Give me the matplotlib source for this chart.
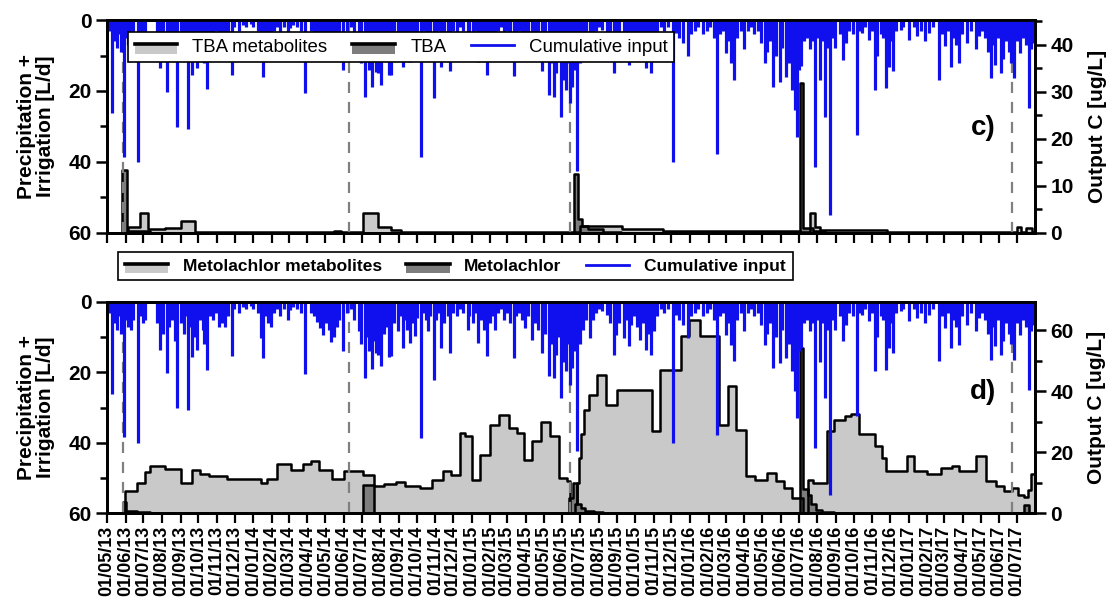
import matplotlib
matplotlib.use('Agg')
import matplotlib.pyplot as plt
import matplotlib.dates as mdates
from matplotlib.patches import Patch, Rectangle
from matplotlib.lines import Line2D
from matplotlib.legend_handler import HandlerBase
from matplotlib.ticker import MultipleLocator
import pandas as pd

plt.rcParams['font.family'] = ['Liberation Sans', 'DejaVu Sans']

START = pd.Timestamp('2013-05-01')
END_DAY = 1552          # right edge of the x axis, days after START
LAST_DAY = 1550         # last day of the concentration records

# daily precipitation + irrigation (L/d), days after START
rain_day = [3, 8, 13, 17, 20, 24, 28, 32, 35, 40, 44, 52, 57, 60, 64,
            84, 89, 94, 100, 104, 109, 113, 117, 123, 128, 131, 135, 139, 142, 146,
            151, 155, 160, 163, 168, 173, 178, 183, 188, 193, 198, 203, 209, 213, 220,
            227, 232, 240, 245, 252, 257, 261, 265, 270, 274, 279, 284, 289, 296, 302,
            306, 311, 318, 324, 331, 341, 346, 351, 356, 361, 366, 371, 375, 380, 385,
            388, 395, 401, 408, 413, 422, 425, 431, 435, 438, 443, 447, 450, 454, 459,
            464, 467, 472, 475, 480, 487, 491, 495, 499, 502, 506, 511, 515, 519, 525,
            529, 533, 537, 541, 547, 551, 554, 559, 564, 570, 573, 578, 585, 591, 596,
            603, 606, 612, 617, 621, 625, 630, 635, 640, 644, 649, 654, 659, 664, 669,
            674, 680, 684, 689, 694, 699, 704, 711, 716, 720, 727, 732, 739, 743, 747,
            751, 754, 760, 763, 767, 771, 775, 778, 781, 786, 791, 796, 801, 807, 813,
            818, 823, 828, 837, 842, 848, 852, 857, 865, 869, 873, 877, 882, 887, 892,
            897, 901, 906, 909, 914, 919, 926, 932, 939, 946, 951, 956, 963, 971, 976,
            983, 988, 996, 1003, 1009, 1015, 1020, 1025, 1030, 1035, 1040, 1044, 1049, 1053, 1060,
            1066, 1072, 1077, 1082, 1089, 1094, 1100, 1104, 1109, 1114, 1119, 1125, 1129, 1136, 1141,
            1145, 1150, 1154, 1158, 1161, 1166, 1171, 1175, 1179, 1184, 1188, 1193, 1196, 1201, 1204,
            1209, 1213, 1218, 1225, 1231, 1236, 1241, 1248, 1254, 1258, 1262, 1268, 1275, 1280, 1285,
            1288, 1294, 1297, 1302, 1307, 1312, 1315, 1320, 1327, 1332, 1341, 1349, 1354, 1361, 1368,
            1374, 1381, 1391, 1396, 1401, 1406, 1411, 1416, 1420, 1425, 1430, 1438, 1445, 1453, 1458,
            1463, 1468, 1473, 1478, 1482, 1485, 1490, 1495, 1499, 1504, 1509, 1512, 1517, 1522, 1527,
            1532, 1537, 1542, 1546, 1549]
rain_val = [3, 26.3, 6, 8, 4, 9, 38.5, 5, 7, 8, 5, 40, 4, 6, 5,
            6, 13.6, 9, 20.2, 7, 5, 11, 30.1, 6, 9, 4, 30.8, 7, 15.5, 10,
            13.6, 5, 8, 12, 19.4, 4, 5, 3, 7, 6, 7, 4, 15.4, 2, 3,
            1.5, 2, 1, 2, 3, 10.3, 16, 4, 6, 7, 3, 2, 4, 2, 5,
            2.3, 1.5, 2, 3, 20.5, 3, 4, 5.6, 7.5, 9.4, 6, 8, 11.3, 10, 7,
            5, 14, 3, 2, 5, 8.3, 12, 21.6, 10, 14, 19, 11, 14.6, 15, 18.3,
            9, 7, 15.5, 15.4, 6, 8.3, 4, 13.1, 5, 8, 11.7, 6, 9.8, 4.5, 38.7,
            3, 5, 8.3, 4, 22.1, 5, 3, 13.1, 6, 4, 14.5, 3, 4, 2, 3,
            7.9, 4, 6, 3, 11.7, 5, 8, 15.4, 6, 4, 7.9, 3, 2, 5, 3,
            6, 15.9, 4, 3, 5, 7.4, 4, 10.7, 6, 8, 14.5, 9, 21.1, 12, 21.6,
            15, 10, 27.3, 17, 19.7, 12, 23.5, 18.8, 14, 42.5, 12, 8, 5, 10.2, 5,
            3, 2, 2.7, 3.6, 6, 15, 9.3, 6, 10.2, 5, 12.6, 6.4, 4, 7, 10.7,
            6, 13.6, 9, 15, 8.3, 4, 2, 3, 2, 40.1, 3.6, 5, 6.4, 10.2, 4,
            3, 2, 4, 3, 2, 5, 37.7, 4, 3, 9.3, 6, 12.1, 16.9, 5, 3,
            8.3, 3, 2, 4, 3, 6.4, 12.1, 9, 6, 18.8, 10, 17.4, 8, 16, 12,
            19.7, 25.4, 33, 14, 13, 6, 5, 8.3, 6, 41.5, 5, 17, 6, 27.3, 8,
            54.8, 5, 8, 4, 11.2, 6.4, 3, 4, 32.5, 3, 3.6, 2, 5.5, 3, 19.7,
            10, 4, 5, 19.2, 13.1, 6, 14.5, 3, 2.7, 2, 5.5, 2, 4.5, 3, 6,
            3.6, 2, 16.9, 4, 7.4, 3, 13.1, 5, 7, 12.1, 4, 6.4, 3, 8.3, 4.5,
            3, 5, 9, 16.4, 7, 12.6, 5, 15, 11, 6, 9, 12, 16.4, 6, 9.3,
            5, 7, 24.9, 8.3, 6.4]

# application dates (dashed lines), days after START
app_day = [26, 405, 775, 1514]

# panel c: TBA metabolites and TBA output concentration (ug/L), step series
tba_meta_day = [0, 35, 55, 69, 97, 123, 148, 380, 391, 428, 454, 475, 492, 791, 862, 929,
                1159, 1176, 1184, 1193, 1304, 1521, 1529, 1537, 1547]
tba_meta_val = [0, 1.3, 4.2, 0.9, 1.0, 2.6, 0.2, 0.4, 0.2, 4.2, 1.3, 0.7, 0.3, 1.5, 0.8, 0.4,
                0.3, 4.2, 1.3, 0.6, 0.2, 1.3, 0.3, 1.1, 0.3]
tba_day = [0, 25, 34, 72, 781, 788, 795, 805, 830, 860, 1159, 1164, 1180, 1200]
tba_val = [0, 13.4, 0.5, 0, 12.5, 3, 1.5, 0.8, 0.3, 0, 31.9, 1, 0.4, 0]

# panel d: Metolachlor metabolites and Metolachlor
meto_meta_day = [0, 30, 50, 64, 72, 97, 123, 142, 156, 170, 201, 257, 268, 285, 307, 327, 341,
                 355, 377, 397, 428, 447, 464, 484, 498, 523, 543, 562, 576, 590, 599, 610,
                 624, 641, 655, 672, 685, 697, 711, 725, 741, 756, 769, 774, 783, 786, 789,
                 793, 797, 806, 820, 834, 853, 911, 924, 960, 974, 991, 1024, 1038, 1052,
                 1068, 1083, 1103, 1119, 1133, 1145, 1164, 1173, 1181, 1204, 1215, 1234,
                 1245, 1257, 1285, 1296, 1302, 1338, 1349, 1371, 1394, 1413, 1425, 1453,
                 1470, 1487, 1500, 1514, 1523, 1534, 1540, 1546]
meto_meta_val = [0, 7.1, 9.8, 13.4, 15.3, 14.5, 9.8, 14, 12.9, 12.2, 11.1, 9.8, 11.1, 16.2,
                 14.2, 16.1, 17, 14.2, 11.1, 13.9, 12.6, 8.7, 9.5, 10.3, 8.7, 8.2, 10.9, 13.7,
                 12.6, 26.2, 25.1, 10.9, 19.1, 29, 32, 27.9, 26.2, 17.5, 23.5, 29.8, 25.1,
                 11.4, 10.6, 0, 3, 10, 18, 26, 33.9, 38.6, 45.1, 35.3, 40.4, 26.8, 47, 57.9,
                 63.4, 57.9, 29, 41.5, 27.3, 12, 10.9, 13.1, 10.4, 8.2, 4.9, 0, 10.9, 9.8,
                 26.8, 30.6, 31.7, 32.5, 25.9, 21.9, 18, 13.9, 18.6, 13.9, 12.8, 14.8, 15.3,
                 13.7, 18.6, 10.6, 8.7, 7.1, 8.2, 6, 5.1, 7.7, 12.8]
meto_day = [0, 26, 32, 50, 72, 428, 447, 772, 780, 786, 792, 800, 815, 830,
            1159, 1164, 1172, 1178, 1185, 1195, 1215, 1534, 1542]
meto_val = [0, 3.7, 0.8, 0.3, 0, 9.3, 0, 5, 10, 3, 1.5, 0.8, 0.3, 0,
            54, 8, 6, 3, 1, 0.5, 0, 2.7, 0]

BLUE = '#1010ee'
LIGHT = '#c9c9c9'
DARK = '#7d7d7d'


def to_dates(days):
    return START + pd.to_timedelta(days, unit='D')


class BarLineHandler(HandlerBase):
    # grey box with a black line on top, like the original legend keys
    def create_artists(self, legend, orig_handle, xdescent, ydescent,
                       width, height, fontsize, trans):
        x0, y0 = -xdescent, -ydescent
        box = Rectangle((x0, y0 - 0.2 * height), width, 0.7 * height,
                        facecolor=orig_handle.get_facecolor(), edgecolor='none',
                        transform=trans)
        line = Line2D([x0, x0 + width], [y0 + 0.55 * height] * 2, color='black',
                      lw=2.6, transform=trans)
        return [box, line]


def step_series(ax, days, vals, color):
    d = to_dates(list(days) + [LAST_DAY])
    v = list(vals) + [vals[-1]]
    ax.fill_between(d, 0, v, step='post', color=color, lw=0, zorder=2)
    ax.plot(d, v, drawstyle='steps-post', color='black', lw=1.8, zorder=3)


def panel(fig, rect, meta_day, meta_val, par_day, par_val, ymax, major, minor, tag, tag_y,
          show_xlabels):
    ax = fig.add_axes(rect)
    ax2 = ax.twinx()
    ax.set_zorder(ax2.get_zorder() + 1)
    ax.patch.set_visible(False)

    # concentrations on the right axis
    step_series(ax2, meta_day, meta_val, LIGHT)
    step_series(ax2, par_day, par_val, DARK)
    for d in app_day:
        ax2.axvline(START + pd.Timedelta(days=d), color='#808080', lw=1.6,
                    dashes=(5, 4), zorder=4)
    ax2.set_ylim(0, ymax)
    ax2.yaxis.set_major_locator(MultipleLocator(major))
    ax2.yaxis.set_minor_locator(MultipleLocator(minor))
    ax2.set_ylabel('Output C [ug/L]', fontsize=15, fontweight='bold', labelpad=10)

    # precipitation on the left axis, hanging from the top
    ax.vlines(to_dates(rain_day), 0, rain_val, color=BLUE, lw=2.3)
    ax.set_ylim(60, 0)
    ax.yaxis.set_major_locator(MultipleLocator(20))
    ax.yaxis.set_minor_locator(MultipleLocator(10))
    ax.set_ylabel('Precipitation +\nIrrigation [L/d]', fontsize=15, fontweight='bold',
                  labelpad=10, linespacing=0.95)

    ax.set_xlim(START, START + pd.Timedelta(days=END_DAY))
    ax.xaxis.set_major_locator(mdates.MonthLocator())
    ax.xaxis.set_major_formatter(mdates.DateFormatter('%d/%m/%y'))

    for a in (ax, ax2):
        for s in a.spines.values():
            s.set_linewidth(2)
        a.tick_params(which='major', length=8, width=1.8, labelsize=15, pad=3)
        a.tick_params(which='minor', length=5, width=1.8)
        for lab in a.get_yticklabels():
            lab.set_fontweight('bold')
    ax.tick_params(axis='x', which='major', length=7, width=1.6, labelsize=13,
                   labelrotation=90, labelbottom=show_xlabels, pad=2)
    for lab in ax.get_xticklabels():
        lab.set_fontweight('bold')

    fig.text(983 / 1118, tag_y, tag, fontsize=20, fontweight='bold',
             ha='center', va='center')
    return ax, ax2


fig = plt.figure(figsize=(11.18, 6.08), dpi=100)

panel(fig, [0.0957, 0.6168, 0.8301, 0.3503], tba_meta_day, tba_meta_val, tba_day, tba_val,
      45.3, 10, 5, 'c)', 1 - 128 / 608, False)
panel(fig, [0.0957, 0.1562, 0.8301, 0.3471], meto_meta_day, meto_meta_val, meto_day,
      meto_val, 69.2, 20, 10, 'd)', 1 - 392 / 608, True)

common = dict(ncol=3, borderaxespad=0, frameon=True, fancybox=False,
              edgecolor='black', framealpha=1, loc='upper left',
              handler_map={Patch: BarLineHandler()})

h_top = [Patch(facecolor=LIGHT), Patch(facecolor=DARK), Line2D([], [], color=BLUE, lw=2)]
leg = fig.legend(h_top, ['TBA metabolites', 'TBA', 'Cumulative input'],
                 bbox_to_anchor=(128 / 1118, 1 - 32 / 608), fontsize=13.4,
                 handlelength=2.3, handletextpad=0.8, columnspacing=1.35,
                 borderpad=0.35, **common)
leg.get_frame().set_linewidth(1.2)

h_bot = [Patch(facecolor=LIGHT), Patch(facecolor=DARK), Line2D([], [], color=BLUE, lw=2)]
leg = fig.legend(h_bot, ['Metolachlor metabolites', 'Metolachlor', 'Cumulative input'],
                 bbox_to_anchor=(118 / 1118, 1 - 252 / 608),
                 prop={'size': 12.5, 'weight': 'bold'},
                 handlelength=2.5, handletextpad=0.85, columnspacing=1.4,
                 borderpad=0.38, **common)
leg.get_frame().set_linewidth(1.2)

fig.savefig('out.png', dpi=100)
